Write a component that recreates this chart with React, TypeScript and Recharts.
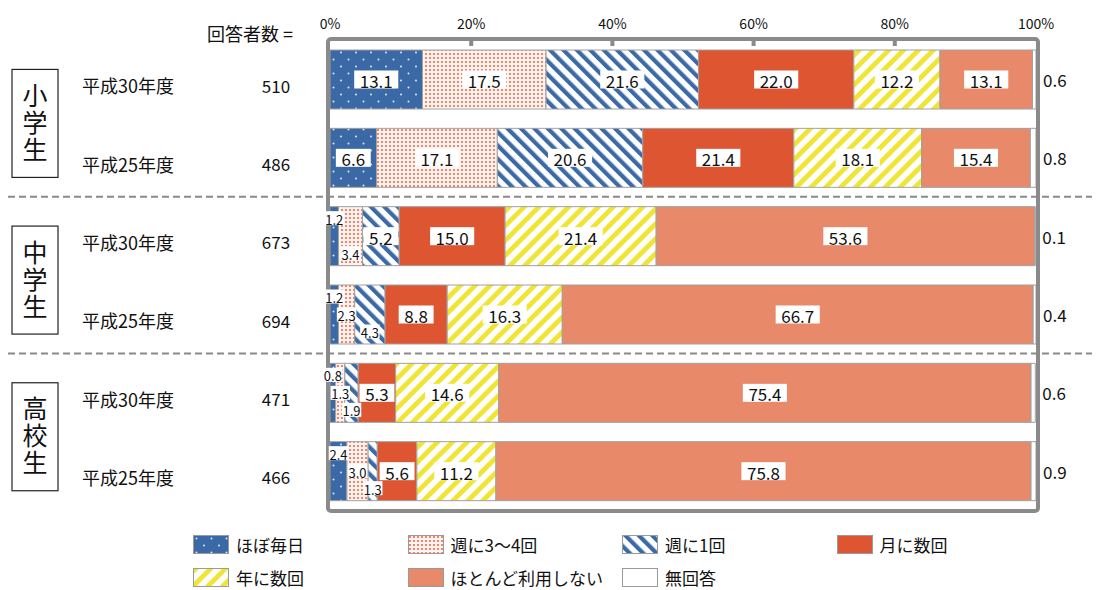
import React from 'react';
import { BarChart, Bar, XAxis, YAxis, LabelList, ReferenceArea } from 'recharts';

const FONT = '"Noto Sans CJK JP", "Noto Sans", sans-serif';

// 校種ごとに2年度
const schoolGroups = ['小学生', '中学生', '高校生'];
const surveyYears = ['平成30年度', '平成25年度', '平成30年度', '平成25年度', '平成30年度', '平成25年度'];
const respondents = [510, 486, 673, 694, 471, 466];

const seriesNames = ['ほぼ毎日', '週に3～4回', '週に1回', '月に数回', '年に数回', 'ほとんど利用しない', '無回答'];
const almostDaily = [13.1, 6.6, 1.2, 1.2, 0.8, 2.4];
const threeToFour = [17.5, 17.1, 3.4, 2.3, 1.3, 3.0];
const oncePerWeek = [21.6, 20.6, 5.2, 4.3, 1.9, 1.3];
const fewPerMonth = [22.0, 21.4, 15.0, 8.8, 5.3, 5.6];
const fewPerYear = [12.2, 18.1, 21.4, 16.3, 14.6, 11.2];
const hardlyEver = [13.1, 15.4, 53.6, 66.7, 75.4, 75.8];
const noAnswer = [0.6, 0.8, 0.1, 0.4, 0.6, 0.9];
const percentTicks = [0, 20, 40, 60, 80, 100];

const seriesValues = [almostDaily, threeToFour, oncePerWeek, fewPerMonth, fewPerYear, hardlyEver, noAnswer];
const seriesFills = ['url(#pt-daily)', 'url(#pt-3to4)', 'url(#pt-weekly)', '#de5631', 'url(#pt-yearly)', '#e8896a', '#ffffff'];

const data = respondents.map((n, i) => {
  const row: Record<string, number | string> = { key: String(i), count: n };
  seriesValues.forEach((vals, s) => { row[`s${s}`] = vals[i]; });
  return row;
});

const HALF_BAND = 39.25;
const SMALL = 5;

function textWidth(t: string, digit: number, dot: number) {
  return t.split('').reduce((w, c) => w + (c === '.' ? dot : digit), 0);
}

function segmentLabel(series: number) {
  // eslint-disable-next-line @typescript-eslint/no-explicit-any
  return (props: any) => {
    const vb = props.viewBox ?? props;
    const { x, y, width, height } = vb;
    const i = props.index;
    const v = seriesValues[series][i];
    const text = v.toFixed(1);
    const cy = y + height / 2;
    if (series === seriesValues.length - 1) {
      return (
        <text x={x + width + 7} y={cy} dominantBaseline="central" fontSize={17} fill="#111">{text}</text>
      );
    }
    const cx = x + width / 2;
    if (v >= SMALL) {
      const w = textWidth(text, 9.2, 4.5) + 12;
      return (
        <g>
          <rect x={cx - w / 2} y={cy - 9} width={w} height={18} fill="#fff" />
          <text x={cx} y={cy + 1} textAnchor="middle" dominantBaseline="central" fontSize={17} fill="#111">{text}</text>
        </g>
      );
    }
    // 細い区間は上・中・下にずらして重ならないように
    let dy = 0;
    if (series === 0) dy = -18;
    else if (series === 2) dy = 17;
    else if (seriesValues[2][i] >= SMALL) dy = 17;
    const w = textWidth(text, 7, 3.5) + 2;
    return (
      <g>
        <rect x={cx - w / 2} y={cy + dy - 7} width={w} height={14} fill="#fff" />
        <text x={cx} y={cy + dy + 1} textAnchor="middle" dominantBaseline="central" fontSize={13} fill="#111">{text}</text>
      </g>
    );
  };
}

// eslint-disable-next-line @typescript-eslint/no-explicit-any
function RowTick({ y, payload }: any) {
  const i = Number(payload.value);
  const gy = y + HALF_BAND + 5;
  return (
    <g>
      {i === 0 && (
        <text x={250} y={y - 46} textAnchor="middle" dominantBaseline="central" fontSize={18} fill="#111">回答者数 =</text>
      )}
      {i % 2 === 0 && (
        <g>
          <rect x={12} y={gy - 54} width={46} height={108} fill="#fff" stroke="#222" strokeWidth={1.2} />
          <text x={35} y={gy} textAnchor="middle" fontSize={25} letterSpacing={2} fill="#111"
            style={{ writingMode: 'vertical-rl' }}>{schoolGroups[i / 2]}</text>
        </g>
      )}
      {i % 2 === 1 && i < surveyYears.length - 1 && (
        <line x1={8} x2={1092} y1={y + HALF_BAND} y2={y + HALF_BAND} stroke="#8a8a8a" strokeWidth={2} strokeDasharray="7 4" />
      )}
      <text x={82} y={y + 6} dominantBaseline="central" fontSize={18} fill="#111">{surveyYears[i]}</text>
      <text x={276} y={y + 6} textAnchor="middle" dominantBaseline="central" fontSize={17} fill="#111">{respondents[i]}</text>
    </g>
  );
}

// eslint-disable-next-line @typescript-eslint/no-explicit-any
function PercentTick({ x, y, payload }: any) {
  const v = payload.value;
  return (
    <g>
      <text x={x} y={y} textAnchor="middle" fontSize={14} fill="#111">{v}%</text>
      {v > 0 && v < 100 && <rect x={x - 2} y={y + 12} width={4} height={5} fill="#8a8a8a" />}
    </g>
  );
}

// eslint-disable-next-line @typescript-eslint/no-explicit-any
function FrameShape(p: any) {
  return (
    <rect x={p.x - 2} y={p.y - 1} width={p.width + 4} height={p.height + 2} rx={3}
      fill="none" stroke="#8a8a8a" strokeWidth={4} />
  );
}

function LegendBlock() {
  return (
    <div style={{ position: 'absolute', left: 0, top: 0, width: 1096, height: 590, pointerEvents: 'none' }}>
      {seriesNames.map((name, k) => (
        <div key={name} style={{
          position: 'absolute', left: 193 + (k % 4) * 214.5, top: 535 + Math.floor(k / 4) * 33,
          height: 19, display: 'flex', alignItems: 'center', gap: 7,
          fontSize: 17, color: '#111', whiteSpace: 'nowrap',
        }}>
          <svg width={36} height={19} style={{ display: 'block' }}>
            <rect x={0.5} y={0.5} width={35} height={18} fill={seriesFills[k]} stroke="#9a9a9a" />
          </svg>
          <span style={{ display: 'block', height: 19, lineHeight: '19px' }}>{name}</span>
        </div>
      ))}
    </div>
  );
}

export default function App() {
  return (
    <div style={{ position: 'absolute', left: 0, top: 0, width: 1096, height: 590, fontFamily: FONT, background: '#fff' }}>
      <BarChart
        width={1096}
        height={590}
        layout="vertical"
        data={data}
        margin={{ top: 10, right: 60, bottom: 80, left: 0 }}
        barSize={59}
      >
        <defs>
          <pattern id="pt-daily" width={15} height={14} patternUnits="userSpaceOnUse">
            <rect width={15} height={14} fill="#3b69a5" />
            <circle cx={3.5} cy={3.5} r={1} fill="#dfe9f6" />
            <circle cx={11} cy={10.5} r={1} fill="#dfe9f6" />
          </pattern>
          <pattern id="pt-3to4" width={4} height={4} patternUnits="userSpaceOnUse">
            <rect width={4} height={4} fill="#fff4ef" />
            <circle cx={2} cy={2} r={1.1} fill="#ee6a4e" />
          </pattern>
          <pattern id="pt-weekly" width={9.5} height={9.5} patternUnits="userSpaceOnUse" patternTransform="rotate(-45)">
            <rect width={9.5} height={9.5} fill="#fff" />
            <rect width={4.2} height={9.5} fill="#3b6aa6" />
          </pattern>
          <pattern id="pt-yearly" width={10.5} height={10.5} patternUnits="userSpaceOnUse" patternTransform="rotate(45)">
            <rect width={10.5} height={10.5} fill="#fff" />
            <rect width={4.8} height={10.5} fill="#f1e534" />
          </pattern>
        </defs>

        <XAxis
          type="number"
          orientation="top"
          domain={[0, 100]}
          ticks={percentTicks}
          allowDataOverflow
          interval={0}
          height={30}
          axisLine={false}
          tickLine={false}
          tickSize={0}
          tickMargin={11}
          tick={<PercentTick />}
        />
        <YAxis
          type="category"
          dataKey="key"
          width={330}
          interval={0}
          axisLine={false}
          tickLine={false}
          tick={<RowTick />}
        />

        {seriesNames.map((name, s) => (
          <Bar
            key={name}
            name={name}
            dataKey={`s${s}`}
            stackId="a"
            fill={seriesFills[s]}
            stroke="#a0a0a0"
            strokeWidth={1}
            isAnimationActive={false}
          >
            <LabelList dataKey={`s${s}`} content={segmentLabel(s)} />
          </Bar>
        ))}

        <ReferenceArea x1={0} x2={100} shape={FrameShape} ifOverflow="visible" />
      </BarChart>
      <LegendBlock />
    </div>
  );
}
